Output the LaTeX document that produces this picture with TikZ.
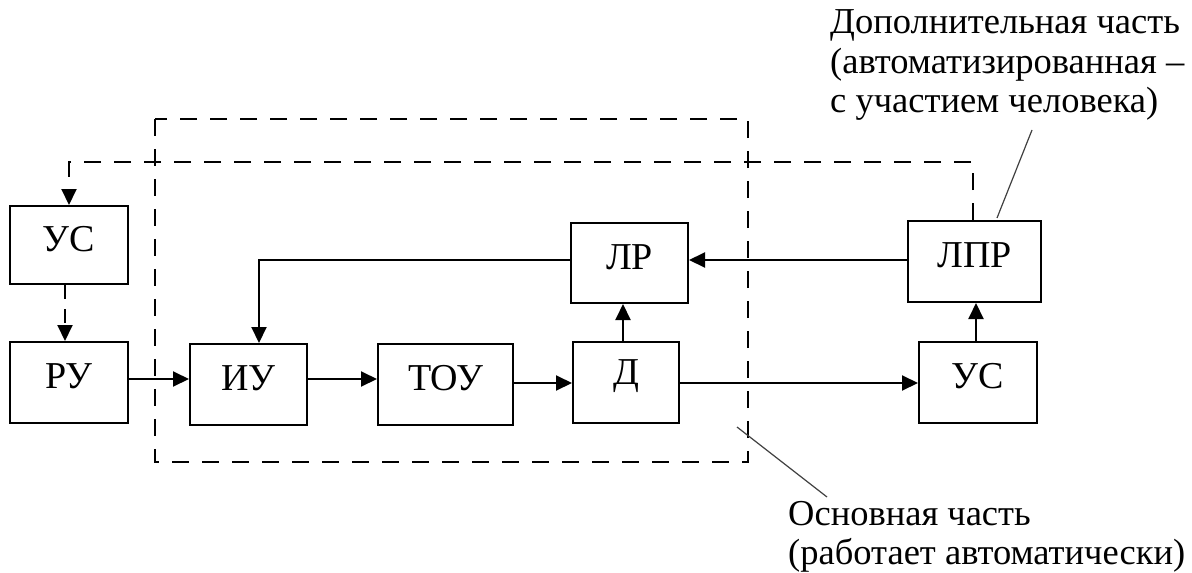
\documentclass[tikz,border=0pt]{standalone}
\usepackage{fontspec}
\setmainfont{Liberation Serif}
\usetikzlibrary{arrows.meta,calc}
\begin{document}
\begin{tikzpicture}[x=1pt,y=-1pt,
  blk/.style={draw,line width=2pt,rectangle,inner sep=0pt},
  lbl/.style={inner sep=0pt,font=\fontsize{38}{42}\selectfont},
  con/.style={line width=2pt,-{Triangle[length=16pt,width=15pt]}},
  dsh/.style={line width=2pt,dash pattern=on 17pt off 13pt},
  lead/.style={line width=1.2pt,draw=black!75},
  ann/.style={anchor=base west,inner sep=0pt,font=\fontsize{36.5}{40}\selectfont}]
\useasboundingbox (0,0) rectangle (1192,573);
% boxes
\node[blk,minimum width=118pt,minimum height=78pt] (us1) at (69,245) {};
\node[blk,minimum width=118pt,minimum height=81pt] (ru) at (69,382.5) {};
\node[blk,minimum width=117pt,minimum height=81pt] (iu) at (248.5,384.5) {};
\node[blk,minimum width=135pt,minimum height=81pt] (tou) at (445.5,384.5) {};
\node[blk,minimum width=106pt,minimum height=81pt] (d) at (626,382.5) {};
\node[blk,minimum width=117pt,minimum height=80pt] (lr) at (629.5,263) {};
\node[blk,minimum width=133pt,minimum height=81pt] (lpr) at (974.5,261.5) {};
\node[blk,minimum width=118pt,minimum height=81pt] (us2) at (978,382.5) {};
% labels
\node[lbl] at ($(us1)+(0,-6)$) {УС};
\node[lbl] at ($(ru)+(0,-6)$) {РУ};
\node[lbl] at ($(iu)+(0,-6)$) {ИУ};
\node[lbl] at ($(tou)+(0,-6)$) {ТОУ};
\node[lbl] at ($(d)+(0,-6)$) {Д};
\node[lbl] at ($(lr)+(0,-6)$) {ЛР};
\node[lbl] at ($(lpr)+(0,-6)$) {ЛПР};
\node[lbl] at ($(us2)+(0,-6)$) {УС};
% helper coordinates
\coordinate (ya) at (0,379);
\coordinate (yb) at (0,383);
\coordinate (yc) at (0,260);
\coordinate (yt) at (0,162);
\coordinate (xf) at (259,0);
\coordinate (xd) at (623,0);
\coordinate (xu) at (976,0);
\coordinate (xl) at (973,0);
\coordinate (xs) at (69,0);
\coordinate (xr) at (65,0);
% dashed main part
\draw[dsh] (155,119) rectangle (748,462);
% connectors
\draw[con] (ru.east |- ya) -- (iu.west |- ya);
\draw[con] (iu.east |- ya) -- (tou.west |- ya);
\draw[con] (tou.east |- yb) -- (d.west |- yb);
\draw[con] (d.east |- yb) -- (us2.west |- yb);
\draw[con] (d.north -| xd) -- (lr.south -| xd);
\draw[con] (us2.north -| xu) -- (lpr.south -| xu);
\draw[con] (lpr.west |- yc) -- (lr.east |- yc);
\draw[con] (lr.west |- yc) -- (xf |- yc) -- (iu.north -| xf);
\draw[dsh,-{Triangle[length=16pt,width=15pt]}] (lpr.north -| xl) -- (xl |- yt) -- (xs |- yt) -- (us1.north -| xs);
\draw[dsh,dash pattern=on 14pt off 10pt,-{Triangle[length=16pt,width=15pt]}] (us1.south -| xr) -- (ru.north -| xr);
% leaders
\coordinate (la1) at (997,218);
\coordinate (la2) at (1032,130);
\coordinate (lb1) at (737,427);
\coordinate (lb2) at (827,497);
\draw[lead] (la1) -- (la2);
\draw[lead] (lb1) -- (lb2);
% annotations
\node[ann] (t1) at (830,33) {Дополнительная часть};
\node[ann] (t2) at (830,73) {(автоматизированная –};
\node[ann] (t3) at (830,112) {с участием человека)};
\node[ann] (b1) at (788,525) {Основная часть};
\node[ann] (b2) at (788,564) {(работает автоматически)};
\end{tikzpicture}
\end{document}
